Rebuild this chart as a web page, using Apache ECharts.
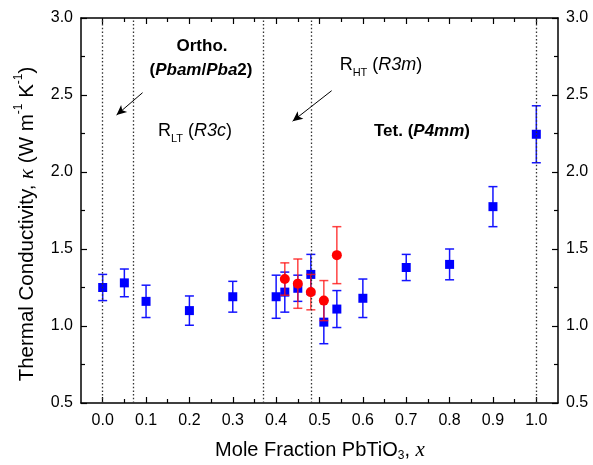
<!DOCTYPE html>
<html>
<head>
<meta charset="utf-8">
<script src="https://cdn.jsdelivr.net/npm/echarts@6/dist/echarts.min.js"></script>
<style>
  html, body { margin: 0; padding: 0; background: #fff; }
  #chart { width: 593px; height: 465px; }
</style>
</head>
<body>
<div id="chart"></div>
<script>
// Blue squares (PbZrO3-PbTiO3 series)
const blueX = [0.0, 0.05, 0.1, 0.2, 0.3, 0.4, 0.42, 0.45, 0.48, 0.51, 0.54, 0.6, 0.7, 0.8, 0.9, 1.0];
const blueK = [1.25, 1.28, 1.16, 1.10, 1.19, 1.19, 1.22, 1.245, 1.335, 1.025, 1.11, 1.18, 1.38, 1.40, 1.775, 2.245];
const blueErr = [0.085, 0.09, 0.105, 0.095, 0.10, 0.14, 0.13, 0.085, 0.13, 0.14, 0.12, 0.125, 0.085, 0.10, 0.13, 0.185];

// Red circles
const redX = [0.42, 0.45, 0.48, 0.51, 0.54];
const redK = [1.305, 1.275, 1.22, 1.165, 1.46];
const redErr = [0.105, 0.16, 0.115, 0.13, 0.185];

// Phase boundaries (dotted lines) and annotation arrows
const boundaries = [0.0, 0.067, 0.372, 0.48, 1.0];
const arrows = [
  [[0.092, 2.515], [0.032, 2.37]],
  [[0.528, 2.528], [0.438, 2.33]]
];

// Tick labels
const xTicks = [0.0, 0.1, 0.2, 0.3, 0.4, 0.5, 0.6, 0.7, 0.8, 0.9, 1.0];
const xMinorTicks = [0.05, 0.15, 0.25, 0.35, 0.45, 0.55, 0.65, 0.75, 0.85, 0.95];
const yMin = 0.5, yMax = 3.0, yStep = 0.5;

const SANS = '"Liberation Sans", Arial, sans-serif';
const SERIF = '"Liberation Serif", "Times New Roman", serif';

const chart = echarts.init(document.getElementById("chart"), null, { renderer: "canvas" });

function errorBars(color) {
  return function (params, api) {
    const x = api.value(0);
    const lo = api.coord([x, api.value(1)]);
    const hi = api.coord([x, api.value(2)]);
    const half = 4.5;
    const style = { stroke: color, lineWidth: 1.5 };
    return {
      type: "group",
      children: [
        { type: "line", shape: { x1: hi[0], y1: hi[1], x2: lo[0], y2: lo[1] }, style: style },
        { type: "line", shape: { x1: hi[0] - half, y1: hi[1], x2: hi[0] + half, y2: hi[1] }, style: style },
        { type: "line", shape: { x1: lo[0] - half, y1: lo[1], x2: lo[0] + half, y2: lo[1] }, style: style }
      ]
    };
  };
}

const blueBars = blueX.map((x, i) => [x, blueK[i] - blueErr[i], blueK[i] + blueErr[i]]);
const redBars = redX.map((x, i) => [x, redK[i] - redErr[i], redK[i] + redErr[i]]);

const axisLine = { show: true, onZero: false, lineStyle: { color: "#000", width: 1.5 } };
const labelStyle = { color: "#000", fontSize: 16, fontFamily: SANS };

function xAxisDef(position, ticks, len, withLine, withLabels) {
  return {
    type: "value",
    position: position,
    min: -0.05,
    max: 1.05,
    axisLine: withLine ? axisLine : { show: false, onZero: false },
    axisTick: { show: true, inside: true, length: len, customValues: ticks, lineStyle: { color: "#000", width: 1.2 } },
    axisLabel: withLabels
      ? Object.assign({ show: true, margin: 10, customValues: ticks, formatter: (v) => v.toFixed(1) }, labelStyle)
      : { show: false },
    splitLine: { show: false }
  };
}

function yAxisDef(position) {
  return {
    type: "value",
    position: position,
    min: yMin,
    max: yMax,
    interval: yStep,
    axisLine: axisLine,
    axisTick: { show: true, inside: true, length: 6, lineStyle: { color: "#000", width: 1.2 } },
    minorTick: { show: true, splitNumber: 2, length: 4, lineStyle: { color: "#000", width: 1.2 } },
    axisLabel: Object.assign({ margin: 8, formatter: (v) => v.toFixed(1) }, labelStyle),
    splitLine: { show: false }
  };
}

const richBase = {
  n: { fontSize: 18, fontFamily: SANS, lineHeight: 26, verticalAlign: "middle", color: "#000" },
  i: { fontSize: 18, fontFamily: SANS, fontStyle: "italic", lineHeight: 26, verticalAlign: "middle", color: "#000" },
  b: { fontSize: 17, fontFamily: SANS, fontWeight: "bold", lineHeight: 26, verticalAlign: "middle", color: "#000" },
  bi: { fontSize: 17, fontFamily: SANS, fontWeight: "bold", fontStyle: "italic", lineHeight: 26, verticalAlign: "middle", color: "#000" },
  sub: { fontSize: 11, fontFamily: SANS, lineHeight: 11, verticalAlign: "bottom", color: "#000" }
};

function label(x, y, text, rotation) {
  return {
    type: "text",
    x: x,
    y: y,
    rotation: rotation || 0,
    style: {
      text: text,
      rich: richBase,
      align: "center",
      verticalAlign: "middle",
      textAlign: "center",
      textVerticalAlign: "middle"
    }
  };
}

const option = {
  animation: false,
  backgroundColor: "#fff",
  grid: { left: 81, right: 35, top: 18, bottom: 62, containLabel: false },
  xAxis: [
    xAxisDef("bottom", xTicks, 6, true, true),
    xAxisDef("bottom", xMinorTicks, 4, false, false),
    xAxisDef("top", xTicks, 6, true, false),
    xAxisDef("top", xMinorTicks, 4, false, false)
  ],
  yAxis: [yAxisDef("left"), yAxisDef("right")],
  graphic: [
    label(202, 46, "{b|Ortho.}"),
    label(201, 70, "{b|(}{bi|Pbam}{b|/}{bi|Pba}{b|2)}"),
    label(195, 131, "{n|R}{sub|LT}{n| (}{i|R3c}{n|)}"),
    label(381, 65, "{n|R}{sub|HT}{n| (}{i|R3m}{n|)}"),
    label(422, 131, "{b|Tet. (}{bi|P4mm}{b|)}"),
    {
      type: "text",
      x: 320,
      y: 450,
      style: {
        text: "{t|Mole Fraction PbTiO}{s|3}{t|, }{x|x}",
        align: "center", verticalAlign: "middle", textAlign: "center", textVerticalAlign: "middle",
        rich: {
          t: { fontSize: 20, fontFamily: SANS, lineHeight: 24, verticalAlign: "middle", color: "#000" },
          s: { fontSize: 12, fontFamily: SANS, lineHeight: 12, verticalAlign: "bottom", color: "#000" },
          x: { fontSize: 21, fontFamily: SERIF, fontStyle: "italic", lineHeight: 24, verticalAlign: "middle", color: "#000" }
        }
      }
    },
    {
      type: "text",
      x: 27,
      y: 224,
      rotation: Math.PI / 2,
      style: {
        text: "{t|Thermal Conductivity, }{k|κ}{t| (W m}{s|-1}{t| K}{s|-1}{t|)}",
        align: "center", verticalAlign: "middle", textAlign: "center", textVerticalAlign: "middle",
        rich: {
          t: { fontSize: 20.5, fontFamily: SANS, lineHeight: 28, verticalAlign: "middle", color: "#000" },
          s: { fontSize: 12, fontFamily: SANS, lineHeight: 12, verticalAlign: "top", color: "#000" },
          k: { fontSize: 21, fontFamily: SERIF, fontStyle: "italic", lineHeight: 28, verticalAlign: "middle", color: "#000" }
        }
      }
    }
  ],
  series: [
    {
      name: "Blue error",
      type: "custom",
      xAxisIndex: 0,
      yAxisIndex: 0,
      renderItem: errorBars("#1414ff"),
      encode: { x: 0, y: [1, 2] },
      data: blueBars,
      z: 2,
      markLine: {
        silent: true,
        symbol: "none",
        label: { show: false },
        lineStyle: { color: "#333", width: 1.3, type: [1.5, 2.2] },
        data: boundaries.map((v) => ({ xAxis: v }))
      }
    },
    {
      name: "Blue",
      type: "scatter",
      symbol: "rect",
      symbolSize: 9,
      itemStyle: { color: "#0000ff", opacity: 1 },
      data: blueX.map((x, i) => [x, blueK[i]]),
      z: 3
    },
    {
      name: "Red error",
      type: "custom",
      renderItem: errorBars("rgba(255, 20, 20, 0.8)"),
      encode: { x: 0, y: [1, 2] },
      data: redBars,
      z: 4,
      markLine: {
        silent: true,
        symbol: ["none", "arrow"],
        symbolSize: [7, 10],
        label: { show: false },
        lineStyle: { color: "#000", width: 1, type: "solid" },
        data: arrows.map((a) => [{ coord: a[0] }, { coord: a[1] }])
      }
    },
    {
      name: "Red",
      type: "scatter",
      symbol: "circle",
      symbolSize: 10,
      itemStyle: { color: "#ff0000", opacity: 1 },
      data: redX.map((x, i) => [x, redK[i]]),
      z: 5
    }
  ]
};

chart.setOption(option);
</script>
</body>
</html>
